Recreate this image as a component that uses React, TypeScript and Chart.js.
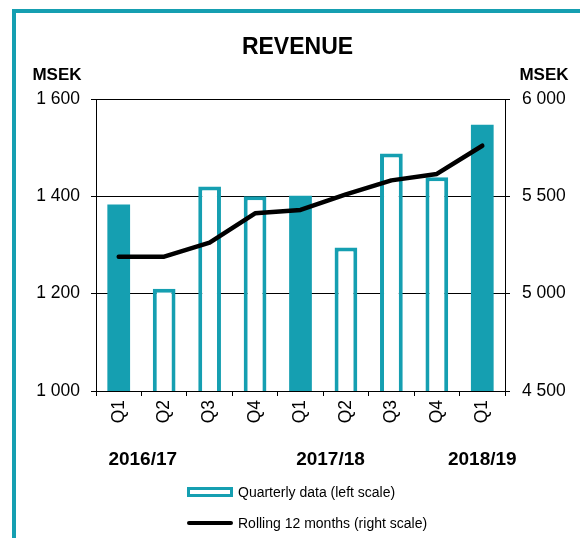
import React, { useEffect, useRef } from 'react';
import { Chart, registerables } from 'chart.js';

Chart.register(...registerables);

const quarters = ['Q1', 'Q2', 'Q3', 'Q4', 'Q1', 'Q2', 'Q3', 'Q4', 'Q1'];
const fiscalYears = ['2016/17', '2017/18', '2018/19'];
const fiscalYearIndex = [0, 4, 8];
const quarterlyRevenue = [1383, 1210, 1420, 1400, 1401, 1295, 1488, 1439, 1547];
const rolling12Months = [5190, 5190, 5262, 5413, 5430, 5510, 5582, 5615, 5760];
const leftTicks = [1000, 1200, 1400, 1600];
const rightTicks = [4500, 5000, 5500, 6000];
const titleText = 'REVENUE';
const unitText = 'MSEK';
const legendLabels = ['Quarterly data (left scale)', 'Rolling 12 months (right scale)'];

const TEAL = '#159fb1';
const FONT = '"Liberation Sans", Arial, sans-serif';
const W = 580;
const H = 538;

const fmt = (v: number | string) =>
  String(v).replace(/\B(?=(\d{3})+(?!\d))/g, ' ');

const overlayPlugin = {
  id: 'overlay',
  afterDraw(chart: any) {
    const ctx = chart.ctx as CanvasRenderingContext2D;
    const xs = chart.scales.x;
    ctx.save();
    ctx.fillStyle = '#000';
    // Title
    ctx.font = `bold 23px ${FONT}`;
    ctx.textAlign = 'center';
    ctx.textBaseline = 'middle';
    ctx.fillText(titleText, 297.5, 48);
    // Units
    ctx.font = `bold 17px ${FONT}`;
    ctx.fillText(unitText, 57, 75);
    ctx.fillText(unitText, 544, 75);
    // Fiscal year labels
    const shifts = [24, 30, 0];
    ctx.font = `bold 19px ${FONT}`;
    fiscalYears.forEach((y, i) => {
      const x = xs.getPixelForValue(fiscalYearIndex[i]) + shifts[i];
      ctx.fillText(y, x, 460);
    });
    // Legend
    ctx.textAlign = 'left';
    ctx.font = `14px ${FONT}`;
    ctx.fillStyle = TEAL;
    ctx.fillRect(187, 487, 46, 10);
    ctx.fillStyle = '#fff';
    ctx.fillRect(190, 490, 40, 4);
    ctx.fillStyle = '#000';
    ctx.fillText(legendLabels[0], 238, 493);
    ctx.strokeStyle = '#000';
    ctx.lineWidth = 4;
    ctx.lineCap = 'round';
    ctx.beginPath();
    ctx.moveTo(189, 523);
    ctx.lineTo(231, 523);
    ctx.stroke();
    ctx.fillText(legendLabels[1], 238, 524);
    ctx.restore();
  },
};

export default function App() {
  const ref = useRef<HTMLCanvasElement | null>(null);

  useEffect(() => {
    if (!ref.current) return;
    const tickFont = { family: FONT, size: 17.5 };
    const chart = new Chart(ref.current, {
      data: {
        labels: quarters,
        datasets: [
          {
            type: 'line',
            label: legendLabels[1],
            data: rolling12Months,
            yAxisID: 'yR',
            borderColor: '#000',
            borderWidth: 4.5,
            pointRadius: 0,
            borderCapStyle: 'round',
            borderJoinStyle: 'round',
            tension: 0,
            order: 1,
          } as any,
          {
            type: 'bar',
            label: legendLabels[0],
            data: quarterlyRevenue,
            yAxisID: 'yL',
            backgroundColor: quarters.map((q) => (q === 'Q1' ? TEAL : '#fff')),
            borderColor: TEAL,
            borderWidth: quarters.map((q) => (q === 'Q1' ? 0 : 4)),
            borderSkipped: false,
            barPercentage: 0.5,
            categoryPercentage: 1,
            order: 2,
          } as any,
        ],
      },
      options: {
        responsive: false,
        animation: false,
        devicePixelRatio: 1,
        layout: { padding: { top: 99, left: 0, right: 0, bottom: 0 } },
        plugins: {
          legend: { display: false },
          title: { display: false },
          tooltip: { enabled: false },
        },
        scales: {
          x: {
            grid: {
              display: true,
              drawOnChartArea: false,
              drawTicks: true,
              tickLength: 5,
              color: '#000',
              offset: true,
            },
            border: { display: true, color: '#000', width: 1 },
            ticks: {
              minRotation: 90,
              maxRotation: 90,
              color: '#000',
              font: tickFont,
              padding: 4,
            },
            afterFit: (s: any) => {
              s.height = H - 391;
            },
          },
          yL: {
            position: 'left',
            min: leftTicks[0],
            max: leftTicks[leftTicks.length - 1],
            afterBuildTicks: (s: any) => {
              s.ticks = leftTicks.map((v) => ({ value: v }));
            },
            ticks: {
              callback: (v: any) => fmt(v),
              padding: 11,
              color: '#000',
              font: tickFont,
            },
            grid: { color: '#000', lineWidth: 1, tickLength: 5 },
            border: { display: true, color: '#000', width: 1 },
            afterFit: (s: any) => {
              s.width = 96;
            },
          },
          yR: {
            position: 'right',
            min: rightTicks[0],
            max: rightTicks[rightTicks.length - 1],
            afterBuildTicks: (s: any) => {
              s.ticks = rightTicks.map((v) => ({ value: v }));
            },
            ticks: {
              callback: (v: any) => fmt(v),
              padding: 12,
              color: '#000',
              font: tickFont,
            },
            grid: { color: '#000', lineWidth: 1, tickLength: 5, drawOnChartArea: false },
            border: { display: true, color: '#000', width: 1 },
            afterFit: (s: any) => {
              s.width = W - 505;
            },
          },
        },
      } as any,
      plugins: [overlayPlugin],
    });
    return () => chart.destroy();
  }, []);

  return (
    <div style={{ position: 'fixed', left: 0, top: 0, width: W, height: H, background: '#fff' }}>
      <div
        style={{
          position: 'absolute',
          left: 12,
          top: 9,
          right: 0,
          bottom: 0,
          borderTop: `4px solid ${TEAL}`,
          borderLeft: `4px solid ${TEAL}`,
        }}
      />
      <canvas
        ref={ref}
        width={W}
        height={H}
        style={{ position: 'absolute', left: 0, top: 0, width: W, height: H }}
      />
    </div>
  );
}
